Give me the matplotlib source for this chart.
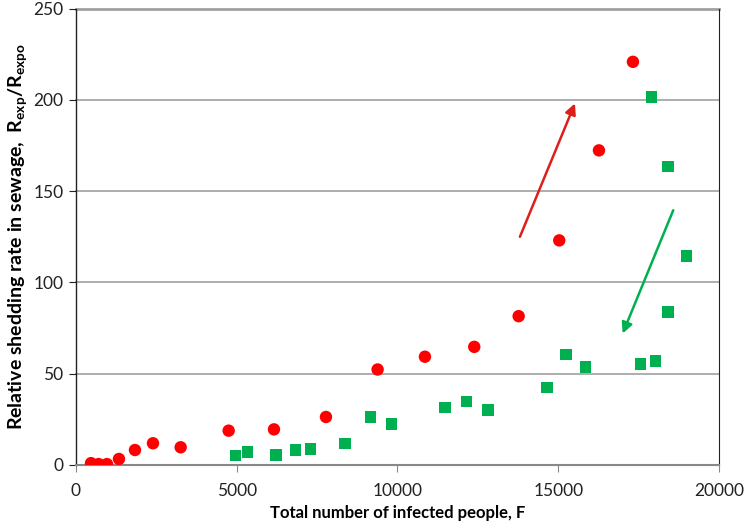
import numpy as np
import matplotlib.pyplot as plt

#-----Data-----#
red_x = [467, 705, 964, 1337, 1835, 2395, 3256, 4749, 6159, 7776,
         9383, 10855, 12389, 13770, 15033, 16268, 17325]
red_y = [1.0, 0.5, 0.5, 3.3, 8.2, 11.9, 9.7, 18.8, 19.5, 26.3,
         52.3, 59.3, 64.7, 81.5, 123.0, 172.3, 220.8]

green_x = [4967, 5340, 6221, 6822, 7300, 8367, 9155, 9807, 11477, 12151,
           12815, 14650, 15241, 15842, 17565, 18031, 17906, 18414, 18984, 18414]
green_y = [5.1, 7.1, 5.5, 8.2, 8.8, 11.9, 26.3, 22.4, 31.6, 34.8,
           30.1, 42.5, 60.4, 53.6, 55.4, 56.9, 201.5, 163.6, 114.5, 83.9]

# arrows: (tail_x, tail_y, head_x, head_y)
red_arrow = (13810, 125, 15521, 198)
green_arrow = (18579, 139.5, 17005, 72)

x_ticks = [0, 5000, 10000, 15000, 20000]
y_ticks = [0, 50, 100, 150, 200, 250]

#-----Plot-----#
plt.rcParams['font.family'] = ['Lato', 'DejaVu Sans']
plt.rcParams['mathtext.default'] = 'regular'

fig = plt.figure(figsize=(7.45, 5.25), dpi=100)
ax = fig.add_axes([0.102, 0.1143, 0.863, 0.8695])

ax.set_xlim(0, 20000)
ax.set_ylim(0, 250)
ax.set_xticks(x_ticks)
ax.set_yticks(y_ticks)

for y in y_ticks[1:]:
    ax.axhline(y, color='#a0a0a0', lw=1.2 if y < 250 else 2.0, zorder=1, clip_on=False)

ax.scatter(red_x, red_y, s=80, marker='o', color='#ff0000', edgecolors='none', zorder=3)
ax.scatter(green_x, green_y, s=68, marker='s', color='#00b050', edgecolors='none', zorder=3)

for (x0, y0, x1, y1), c in [(red_arrow, '#dd1f1b'), (green_arrow, '#00b050')]:
    ax.annotate('', xy=(x1, y1), xytext=(x0, y0),
                arrowprops=dict(arrowstyle='-|>', color=c, lw=1.8,
                                mutation_scale=16, shrinkA=0, shrinkB=0))

ax.spines['top'].set_visible(False)
ax.spines['left'].set_color('#222222')
ax.spines['right'].set_color('#222222')
ax.spines['bottom'].set_color('#888888')
ax.spines['left'].set_linewidth(1.0)
ax.spines['right'].set_linewidth(0.8)
ax.spines['bottom'].set_linewidth(1.5)

ax.tick_params(axis='both', direction='out', length=5, labelsize=12.5,
               colors='#222222', pad=4)
ax.tick_params(axis='x', color='#888888', pad=8)

ax.set_xlabel('Total number of infected people, F', fontsize=12,
              fontweight='bold', labelpad=4)
ax.set_ylabel('Relative shedding rate in sewage,  R$_{exp}$/R$_{expo}$',
              fontsize=14, fontweight='bold', labelpad=3)

plt.savefig('out.png', dpi=100)
